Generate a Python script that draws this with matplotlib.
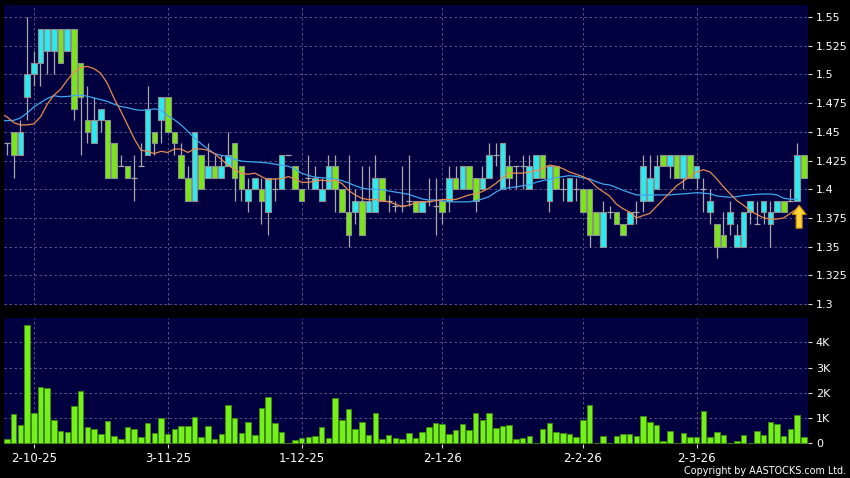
import numpy as np
import matplotlib
matplotlib.use("Agg")
import matplotlib.pyplot as plt
from matplotlib.patches import FancyArrow

# daily OHLC (one entry per trading day, left to right)
opens = [1.44, 1.45, 1.43, 1.48, 1.50, 1.51, 1.52, 1.52, 1.54, 1.52,
         1.54, 1.51, 1.46, 1.44, 1.46, 1.46, 1.44, 1.42, 1.42, 1.41,
         1.42, 1.43, 1.45, 1.46, 1.48, 1.45, 1.43, 1.41, 1.39, 1.43,
         1.41, 1.42, 1.41, 1.42, 1.44, 1.42, 1.39, 1.40, 1.40, 1.38,
         1.40, 1.40, 1.43, 1.42, 1.40, 1.41, 1.40, 1.39, 1.40, 1.42,
         1.40, 1.38, 1.38, 1.39, 1.38, 1.38, 1.41, 1.39, 1.385, 1.385,
         1.39, 1.39, 1.38, 1.39, 1.385, 1.39, 1.39, 1.41, 1.40, 1.42,
         1.41, 1.40, 1.41, 1.43, 1.40, 1.42, 1.42, 1.42, 1.40, 1.41,
         1.43, 1.39, 1.42, 1.40, 1.39, 1.40, 1.40, 1.40, 1.38, 1.35,
         1.38, 1.38, 1.37, 1.37, 1.38, 1.39, 1.39, 1.40, 1.43, 1.42,
         1.43, 1.41, 1.43, 1.41, 1.40, 1.38, 1.37, 1.36, 1.37, 1.35,
         1.35, 1.38, 1.37, 1.38, 1.37, 1.38, 1.39, 1.39, 1.39, 1.43]
highs = [1.44, 1.45, 1.46, 1.55, 1.52, 1.54, 1.54, 1.54, 1.54, 1.54,
         1.54, 1.51, 1.49, 1.48, 1.47, 1.46, 1.44, 1.43, 1.42, 1.43,
         1.44, 1.49, 1.45, 1.48, 1.48, 1.45, 1.44, 1.42, 1.45, 1.43,
         1.44, 1.43, 1.43, 1.45, 1.44, 1.42, 1.41, 1.41, 1.41, 1.41,
         1.41, 1.43, 1.43, 1.42, 1.40, 1.43, 1.42, 1.41, 1.43, 1.43,
         1.40, 1.43, 1.40, 1.42, 1.42, 1.43, 1.41, 1.395, 1.39, 1.42,
         1.43, 1.39, 1.39, 1.41, 1.41, 1.39, 1.42, 1.42, 1.42, 1.42,
         1.41, 1.42, 1.44, 1.44, 1.44, 1.43, 1.42, 1.43, 1.43, 1.43,
         1.43, 1.42, 1.42, 1.41, 1.41, 1.41, 1.40, 1.40, 1.38, 1.39,
         1.385, 1.38, 1.37, 1.38, 1.39, 1.43, 1.43, 1.43, 1.43, 1.43,
         1.43, 1.43, 1.43, 1.42, 1.41, 1.40, 1.37, 1.38, 1.39, 1.37,
         1.38, 1.39, 1.39, 1.39, 1.39, 1.39, 1.39, 1.40, 1.44, 1.43]
lows = [1.43, 1.41, 1.43, 1.46, 1.49, 1.49, 1.50, 1.50, 1.51, 1.52,
        1.46, 1.43, 1.44, 1.44, 1.45, 1.41, 1.41, 1.42, 1.41, 1.39,
        1.42, 1.43, 1.43, 1.44, 1.45, 1.43, 1.41, 1.39, 1.39, 1.40,
        1.41, 1.41, 1.41, 1.42, 1.39, 1.39, 1.38, 1.40, 1.37, 1.36,
        1.39, 1.40, 1.43, 1.40, 1.39, 1.40, 1.40, 1.39, 1.40, 1.38,
        1.38, 1.35, 1.37, 1.36, 1.38, 1.38, 1.39, 1.38, 1.38, 1.38,
        1.385, 1.38, 1.38, 1.385, 1.36, 1.37, 1.38, 1.40, 1.40, 1.40,
        1.38, 1.40, 1.41, 1.42, 1.40, 1.40, 1.40, 1.40, 1.40, 1.41,
        1.41, 1.38, 1.40, 1.39, 1.39, 1.39, 1.38, 1.35, 1.36, 1.35,
        1.375, 1.37, 1.36, 1.37, 1.37, 1.38, 1.39, 1.40, 1.42, 1.41,
        1.41, 1.40, 1.41, 1.40, 1.38, 1.37, 1.34, 1.35, 1.36, 1.35,
        1.35, 1.37, 1.37, 1.37, 1.35, 1.38, 1.38, 1.39, 1.39, 1.41]
closes = [1.44, 1.43, 1.45, 1.50, 1.51, 1.54, 1.54, 1.54, 1.51, 1.54,
          1.47, 1.48, 1.45, 1.46, 1.47, 1.41, 1.41, 1.42, 1.41, 1.41,
          1.42, 1.47, 1.44, 1.48, 1.45, 1.44, 1.41, 1.39, 1.45, 1.40,
          1.42, 1.41, 1.42, 1.43, 1.41, 1.40, 1.40, 1.41, 1.39, 1.41,
          1.40, 1.43, 1.43, 1.40, 1.39, 1.41, 1.41, 1.40, 1.42, 1.40,
          1.38, 1.36, 1.39, 1.36, 1.39, 1.41, 1.39, 1.39, 1.385, 1.385,
          1.39, 1.38, 1.39, 1.39, 1.385, 1.38, 1.41, 1.40, 1.42, 1.40,
          1.39, 1.41, 1.43, 1.43, 1.44, 1.41, 1.42, 1.42, 1.42, 1.43,
          1.41, 1.42, 1.40, 1.40, 1.41, 1.40, 1.38, 1.36, 1.36, 1.38,
          1.38, 1.37, 1.36, 1.38, 1.38, 1.42, 1.41, 1.42, 1.42, 1.43,
          1.41, 1.43, 1.41, 1.42, 1.40, 1.39, 1.35, 1.35, 1.38, 1.36,
          1.38, 1.39, 1.37, 1.39, 1.38, 1.39, 1.38, 1.39, 1.43, 1.41]

# volume in thousands of shares
volumes = [0.17, 1.17, 0.73, 4.67, 1.20, 2.23, 2.19, 0.91, 0.50, 0.44,
           1.46, 2.07, 0.63, 0.58, 0.36, 0.88, 0.28, 0.17, 0.66, 0.57,
           0.25, 0.80, 0.40, 1.02, 0.36, 0.57, 0.67, 0.70, 1.04, 0.25,
           0.69, 0.16, 0.36, 1.52, 1.00, 0.41, 0.84, 0.34, 1.40, 1.85,
           0.82, 0.44, 0.00, 0.15, 0.21, 0.26, 0.29, 0.65, 0.20, 1.79,
           0.91, 1.36, 0.57, 0.83, 0.33, 1.20, 0.18, 0.33, 0.21, 0.18,
           0.40, 0.21, 0.44, 0.63, 0.80, 0.77, 0.38, 0.51, 0.75, 0.51,
           1.19, 0.92, 1.19, 0.61, 0.70, 0.71, 0.17, 0.21, 0.28, 0.03,
           0.55, 0.80, 0.45, 0.41, 0.38, 0.25, 0.92, 1.50, 0.03, 0.28,
           0.00, 0.28, 0.36, 0.38, 0.29, 1.09, 0.86, 0.73, 0.11, 0.47,
           0.03, 0.41, 0.25, 0.25, 1.27, 0.26, 0.45, 0.34, 0.03, 0.08,
           0.32, 0.03, 0.50, 0.32, 0.83, 0.78, 0.29, 0.58, 1.13, 0.24]

# moving averages as drawn (first value sits one day left of the first candle)
ma_fast = [1.466, 1.463, 1.458, 1.456, 1.456, 1.457, 1.463, 1.474, 1.482, 1.487,
           1.495, 1.502, 1.506, 1.507, 1.505, 1.501, 1.492, 1.479, 1.468, 1.456,
           1.444, 1.434, 1.433, 1.431, 1.433, 1.432, 1.435, 1.435, 1.432, 1.435,
           1.435, 1.434, 1.431, 1.426, 1.421, 1.417, 1.414, 1.413, 1.414, 1.411,
           1.408, 1.409, 1.409, 1.411, 1.409, 1.406, 1.406, 1.407, 1.408, 1.407,
           1.408, 1.405, 1.399, 1.395, 1.392, 1.391, 1.391, 1.390, 1.389, 1.387,
           1.385, 1.386, 1.388, 1.389, 1.389, 1.390, 1.391, 1.391, 1.391, 1.393,
           1.395, 1.396, 1.398, 1.401, 1.405, 1.410, 1.414, 1.414, 1.414, 1.415,
           1.416, 1.418, 1.421, 1.420, 1.418, 1.415, 1.413, 1.411, 1.408, 1.402,
           1.398, 1.394, 1.387, 1.383, 1.380, 1.375, 1.377, 1.379, 1.385, 1.391,
           1.397, 1.403, 1.407, 1.411, 1.415, 1.417, 1.415, 1.409, 1.402, 1.396,
           1.390, 1.386, 1.381, 1.378, 1.375, 1.374, 1.374, 1.375, 1.379, 1.383]
ma_slow = [1.4597, 1.4597, 1.4600, 1.4620, 1.4665, 1.4715, 1.4755, 1.4790, 1.4815, 1.4805,
           1.4808, 1.4815, 1.4820, 1.4810, 1.4795, 1.4780, 1.4765, 1.4740, 1.4720, 1.4710,
           1.4695, 1.4687, 1.4690, 1.4700, 1.4690, 1.4640, 1.4605, 1.4560, 1.4505, 1.4445,
           1.4395, 1.4350, 1.4310, 1.4295, 1.4285, 1.4260, 1.4245, 1.4240, 1.4237, 1.4233,
           1.4228, 1.4218, 1.4210, 1.4200, 1.4175, 1.4140, 1.4120, 1.4105, 1.4100, 1.4095,
           1.4090, 1.4075, 1.4055, 1.4030, 1.4010, 1.4000, 1.3999, 1.3995, 1.3985, 1.3975,
           1.3965, 1.3955, 1.3935, 1.3915, 1.3906, 1.3906, 1.3900, 1.3890, 1.3890, 1.3890,
           1.3890, 1.3900, 1.3915, 1.3935, 1.3975, 1.4005, 1.4013, 1.4020, 1.4030, 1.4037,
           1.4060, 1.4075, 1.4086, 1.4100, 1.4110, 1.4118, 1.4112, 1.4100, 1.4090, 1.4065,
           1.4045, 1.4037, 1.4015, 1.3990, 1.3970, 1.3950, 1.3950, 1.3950, 1.3950, 1.3950,
           1.3950, 1.3956, 1.3960, 1.3964, 1.3970, 1.3965, 1.3960, 1.3941, 1.3935, 1.3930,
           1.3935, 1.3945, 1.3950, 1.3956, 1.3958, 1.3958, 1.3950, 1.3921, 1.3912, 1.3912]

date_idx = [4, 24, 44, 65, 86, 103]
date_labels = ["2-10-25", "3-11-25", "1-12-25", "2-1-26", "2-2-26", "2-3-26"]
price_ticks = [1.3, 1.325, 1.35, 1.375, 1.4, 1.425, 1.45, 1.475, 1.5, 1.525, 1.55]
vol_ticks = [0, 1, 2, 3, 4]
vol_labels = ["0", "1K", "2K", "3K", "4K"]

BG = "#000040"
GRID = "#62628e"
CYAN = "#2BEBF0"
GREEN = "#7AE61A"
EDGE = "#8f8f8f"
WICK = "#a8a8a8"


def style_axes(ax):
    ax.set_facecolor(BG)
    for s in ax.spines.values():
        s.set_visible(False)
    ax.set_axisbelow(True)
    ax.grid(True, color=GRID, ls=(0, (3, 3)), lw=0.6)
    ax.yaxis.tick_right()
    ax.tick_params(axis="y", colors="#d8d8d8", labelcolor="white", labelsize=8,
                   length=3, width=0.8, pad=3)
    ax.set_xlim(-0.45, 119.55)
    ax.set_xticks(date_idx)


def draw_price(ax):
    o, h, l, c = map(np.array, (opens, highs, lows, closes))
    x = np.arange(len(o))
    up = c > o + 1e-9
    dn = c < o - 1e-9
    flat = ~(up | dn)
    ax.vlines(x, l, h, color=WICK, lw=0.9, zorder=2)
    ax.bar(x[up], (c - o)[up], bottom=o[up], width=0.84, color=CYAN,
           edgecolor=EDGE, lw=0.8, zorder=3)
    ax.bar(x[dn], (o - c)[dn], bottom=c[dn], width=0.84, color=GREEN,
           edgecolor=EDGE, lw=0.8, zorder=3)
    ax.hlines(o[flat], x[flat] - 0.45, x[flat] + 0.45, color=WICK, lw=0.9, zorder=3)

    xm = np.arange(-1, len(ma_fast) - 1)
    ax.plot(xm, ma_slow, color="#3fa7ee", lw=0.9, zorder=4)
    ax.plot(xm, ma_fast, color="#e88a4e", lw=0.9, zorder=4)

    # buy-signal arrow under the last up candle
    ax.add_patch(FancyArrow(x[-2] + 0.3, l[-2] - 0.024, 0, 0.020, width=0.9,
                            head_width=2.1, head_length=0.008,
                            length_includes_head=True, fc="#ffd23a",
                            ec="#c88a00", lw=0.8, zorder=5))

    ax.set_ylim(1.2991, 1.5605)
    ax.set_yticks(price_ticks, [f"{v:g}" for v in price_ticks])
    ax.tick_params(axis="x", length=0, labelbottom=False)


def draw_volume(ax):
    x = np.arange(len(volumes))
    ax.bar(x, volumes, width=0.82, color="#76f01c", edgecolor="#3d8a0c",
           lw=0.6, zorder=3)
    ax.set_ylim(-0.028, 4.95)
    ax.set_yticks(vol_ticks, vol_labels)
    ax.set_xticks(date_idx, date_labels)
    ax.tick_params(axis="x", colors="#d8d8d8", labelcolor="white", labelsize=8.5,
                   length=3, width=0.8, pad=3)


def main():
    fig = plt.figure(figsize=(8.5, 4.78), dpi=100, facecolor="black")
    W, H = 850, 478
    ax_p = fig.add_axes([4 / W, 1 - 305 / H, 803.5 / W, 300 / H])
    ax_v = fig.add_axes([4 / W, 1 - 444 / H, 803.5 / W, 125.7 / H])
    style_axes(ax_p)
    style_axes(ax_v)
    draw_price(ax_p)
    draw_volume(ax_v)
    fig.text(846 / W, 1 - 471 / H, "Copyright by AASTOCKS.com Ltd.",
             ha="right", va="center", color="white", fontsize=6.9)
    fig.savefig("out.png", dpi=100, facecolor="black")
    plt.close(fig)


if __name__ == "__main__":
    main()
